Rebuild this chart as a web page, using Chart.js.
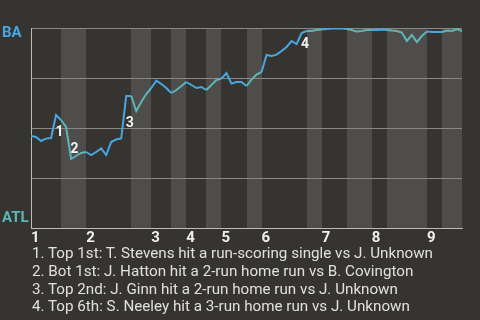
<!DOCTYPE html>
<html><head><meta charset="utf-8">
<script src="https://cdn.jsdelivr.net/npm/chart.js@4"></script>
<style>
html,body{margin:0;padding:0;background:#363430;width:480px;height:320px;overflow:hidden;font-family:Roboto,sans-serif}
#wrap{position:absolute;left:0;top:0;width:480px;height:320px}
.yl{position:absolute;font-weight:bold;font-size:15px;line-height:15px}
#notes{position:absolute;left:32px;top:245px;color:#e0e0e0;font-size:15.2px;line-height:17.8px;white-space:nowrap}
</style></head><body>
<div id="wrap"><canvas id="c" width="480" height="320"></canvas></div>
<div class="yl" id="ba" style="left:2px;top:25px;color:#47a6e3">BA</div>
<div class="yl" id="atl" style="left:2px;top:210px;color:#5cb6b6">ATL</div>
<div id="notes"></div>
<script>
// BA win probability (%) after each play, by play index
const baWinPct = [
  46, 45.5, 43.5, 44.7, 45, 56.5, 54, 50.5, 34.5, 36,
  37.5, 38, 36.5, 38, 39.8, 36.5, 43, 44.3, 44.8, 66,
  66, 58.5, 63, 67, 70, 73.7, 72, 70, 67.5, 69,
  71, 73, 71.5, 70, 70.5, 69, 71.5, 74, 74.7, 77.5,
  72.2, 73, 73, 71, 74.2, 76.7, 78, 86.5, 86, 86.7,
  88.5, 90.5, 93.5, 92, 97.5, 98.5, 98.5, 99, 99.3, 99.5,
  99.7, 99.7, 99.7, 99.5, 99, 98.2, 98.5, 99, 99, 99,
  99.2, 99, 98.7, 98.5, 97.7, 93.5, 96.5, 93, 96, 98.2,
  98, 98, 98, 98.7, 98.5, 99.5, 98.5
];
const inningLabels = ['1','2','3','4','5','6','7','8','9'];
const inningStarts = [0, 11, 24, 31, 38, 46, 58, 68, 79];
const bottomHalfStarts = [6, 20, 28, 35, 43, 55, 63, 71, 82];
const bottomHalfEnds = [11, 24, 31, 38, 46, 58, 68, 79, 86];
const keyPlayIndex = [5, 8, 19, 54];
const keyPlayNotes = [
  'Top 1st: T. Stevens hit a run-scoring single vs J. Unknown',
  'Bot 1st: J. Hatton hit a 2-run home run vs B. Covington',
  'Top 2nd: J. Ginn hit a 2-run home run vs J. Unknown',
  'Top 6th: S. Neeley hit a 3-run home run vs J. Unknown'
];

const BLUE = '#47a6e3', TEAL = '#5cb6b6';
const BG = '#363430', BAND = '#4f4d4b';

function isBottom(x){
  for (let i=0;i<bottomHalfStarts.length;i++){
    if (x >= bottomHalfStarts[i] && x < bottomHalfEnds[i]) return true;
  }
  return false;
}

document.getElementById('notes').innerHTML =
  keyPlayNotes.map((t,i)=>'<div>'+(i+1)+'. '+t+'</div>').join('');

const bandsPlugin = {
  id:'bands',
  beforeDraw(chart){
    const {ctx, chartArea:a, scales:{x}} = chart;
    ctx.save();
    ctx.fillStyle = BG;
    ctx.fillRect(0,0,chart.width,chart.height);
    ctx.fillStyle = BAND;
    for (let i=0;i<bottomHalfStarts.length;i++){
      const x0 = Math.round(x.getPixelForValue(bottomHalfStarts[i]));
      const x1 = Math.round(x.getPixelForValue(bottomHalfEnds[i]));
      ctx.fillRect(x0, a.top, x1-x0, a.bottom-a.top);
    }
    ctx.restore();
  }
};
const keyLabelsPlugin = {
  id:'keyLabels',
  afterDatasetsDraw(chart){
    const {ctx, scales:{x,y}} = chart;
    ctx.save();
    ctx.font = 'bold 14px Roboto';
    ctx.fillStyle = '#f2f2f2';
    ctx.textAlign = 'left';
    ctx.textBaseline = 'top';
    keyPlayIndex.forEach((k,i)=>{
      const mx = (x.getPixelForValue(k-1)+x.getPixelForValue(k))/2;
      const my = (y.getPixelForValue(baWinPct[k-1])+y.getPixelForValue(baWinPct[k]))/2;
      ctx.fillText(String(i+1), mx+2, my-1);
    });
    ctx.restore();
  }
};

new Chart(document.getElementById('c'), {
  type:'line',
  data:{datasets:[{
    data: baWinPct.map((v,i)=>({x:i,y:v})),
    borderColor: BLUE, borderWidth:2, pointRadius:0, tension:0, fill:false,
    segment:{borderColor: c => isBottom(c.p0.parsed.x) ? TEAL : BLUE}
  }]},
  options:{
    responsive:false, animation:false, devicePixelRatio:1,
    layout:{padding:{left:31, right:18, top:28, bottom:76}},
    plugins:{legend:{display:false}, tooltip:{enabled:false}},
    scales:{
      x:{type:'linear', min:0, max:baWinPct.length-1,
        grid:{display:false, drawTicks:false},
        border:{display:true, color:'#bdbbb8', width:1},
        afterBuildTicks: s => { s.ticks = inningStarts.map(v=>({value:v})); },
        afterFit: s => { s.height = 16; },
        ticks:{align:'start', padding:1, color:'#f0f0f0', autoSkip:false, maxRotation:0,
          font:{family:'Roboto', size:15, weight:'bold'},
          callback:(v,i)=>inningLabels[i]}
      },
      y:{min:0, max:100,
        ticks:{display:false, stepSize:25},
        grid:{color:'#8a8885', drawTicks:false},
        border:{display:true, color:'#bdbbb8', width:1},
        afterFit: s => { s.width = 0; }
      }
    }
  },
  plugins:[bandsPlugin, keyLabelsPlugin]
});
</script>
</body></html>
